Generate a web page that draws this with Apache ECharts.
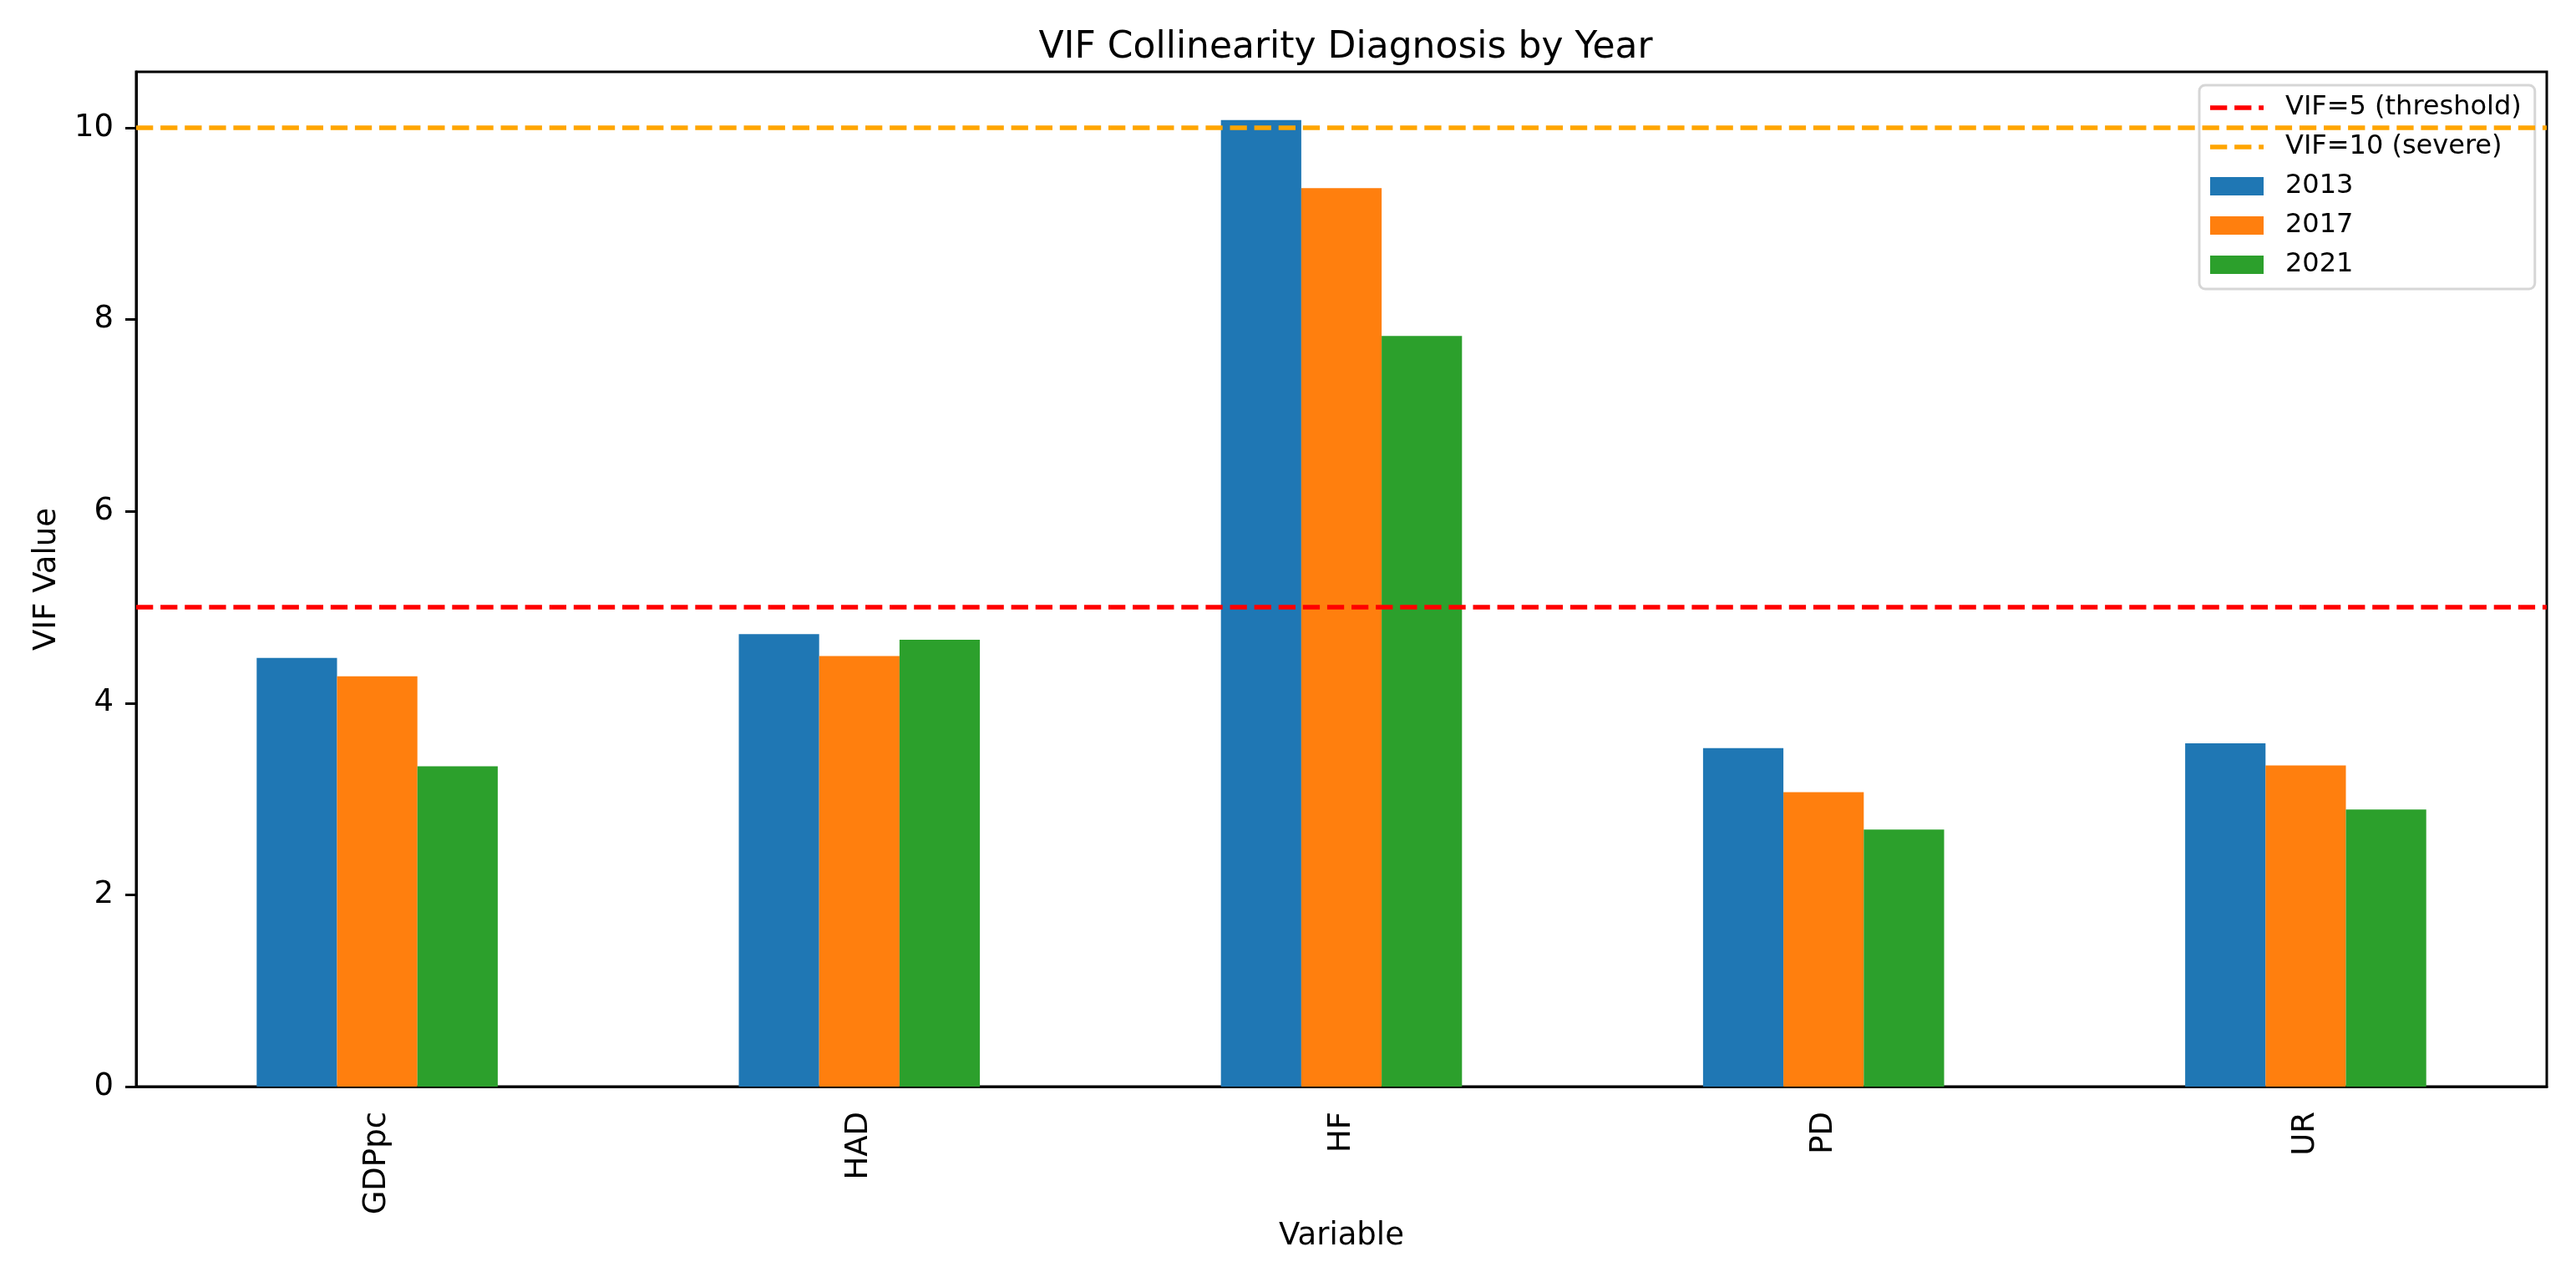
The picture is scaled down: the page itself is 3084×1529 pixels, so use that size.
<!DOCTYPE html>
<html>
<head>
<meta charset="utf-8">
<title>VIF Collinearity Diagnosis by Year</title>
<script src="https://cdn.jsdelivr.net/npm/echarts@6/dist/echarts.min.js"></script>
<style>
html, body { margin: 0; padding: 0; background: #fff; }
#main { width: 3084px; height: 1529px; }
</style>
</head>
<body>
<div id="main"></div>
<script>
// data
var categories = ['GDPpc', 'HAD', 'HF', 'PD', 'UR'];
var years = ['2013', '2017', '2021'];
var vif2013 = [4.47, 4.72, 10.08, 3.53, 3.58];
var vif2017 = [4.28, 4.49, 9.37, 3.07, 3.35];
var vif2021 = [3.34, 4.66, 7.83, 2.68, 2.89];
var yTicks = [0, 2, 4, 6, 8, 10];
var thresholdName = 'VIF=5 (threshold)';
var severeName = 'VIF=10 (severe)';
var thresholdValue = 5;
var severeValue = 10;

var FONT = 'DejaVu Sans';
var colors = ['#1f77b4', '#ff7f0e', '#2ca02c'];
var dash = [20.3, 8.8];
//图例里的虚线图标（64x22，四角放极小点保持比例）
var dashIcon = 'path://M0,0h0.01v0.01zM0,8.25h20.3v5.5H0zM29.1,8.25h20.3v5.5h-20.3zM58.2,8.25h5.8v5.5h-5.8zM64,22h-0.01v-0.01z';

//y轴上限：和 matplotlib 一样留 5% 边距
var allVals = vif2013.concat(vif2017, vif2021);
var yMax = Math.max.apply(null, allVals) * 1.05;

function barSeries(name, data, color){
    return {
        name: name,
        type: 'bar',
        data: data,
        barWidth: '16.667%',
        barGap: '0%',
        itemStyle: { color: color },
        z: 2
    };
}

function refLine(name, value, color){
    return {
        name: name,
        type: 'line',
        data: [],
        symbol: 'none',
        lineStyle: { color: color, width: 5.5, type: dash },
        itemStyle: { color: color },
        z: 3,
        markLine: {
            silent: true,
            symbol: ['none', 'none'],
            label: { show: false },
            lineStyle: { color: color, width: 5.5, type: dash },
            data: [{ yAxis: value }]
        }
    };
}

var legendData = [
    { name: thresholdName, icon: dashIcon },
    { name: severeName, icon: dashIcon }
];
for(var i = 0; i < years.length; i++){
    legendData.push({ name: years[i], icon: 'rect' });
}

var option = {
    animation: false,
    backgroundColor: '#fff',
    title: {
        text: 'VIF Collinearity Diagnosis by Year',
        left: 1606,
        top: 31,
        textAlign: 'center',
        textStyle: { fontFamily: FONT, fontSize: 44, fontWeight: 'normal', color: '#000' }
    },
    legend: {
        orient: 'vertical',
        left: 2633,
        top: 102,
        padding: [9, 16, 11, 13],
        itemGap: 11,
        itemWidth: 64,
        itemHeight: 22,
        backgroundColor: 'rgba(255,255,255,0.8)',
        borderColor: 'rgba(204,204,204,0.8)',
        borderWidth: 3,
        borderRadius: 7,
        data: legendData,
        textStyle: { fontFamily: FONT, fontSize: 32, color: '#000', lineHeight: 36, padding: [0, 0, 0, 21] }
    },
    grid: {
        left: 163,
        right: 35,
        top: 86,
        bottom: 228,
        show: true,
        borderColor: '#000',
        borderWidth: 3,
        backgroundColor: 'transparent'
    },
    xAxis: {
        type: 'category',
        data: categories,
        name: 'Variable',
        nameLocation: 'middle',
        nameGap: 152,
        nameTextStyle: { fontFamily: FONT, fontSize: 37, color: '#000' },
        axisLine: { lineStyle: { color: '#000', width: 3 } },
        axisTick: { alignWithLabel: true, length: 13, lineStyle: { color: '#000', width: 3 } },
        axisLabel: { rotate: 90, margin: 30, fontFamily: FONT, fontSize: 37, color: '#000' },
        splitLine: { show: false }
    },
    yAxis: {
        type: 'value',
        min: 0,
        max: yMax,
        interval: 2,
        name: 'VIF Value',
        nameLocation: 'middle',
        nameGap: 88,
        nameTextStyle: { fontFamily: FONT, fontSize: 37, color: '#000' },
        axisLine: { show: true, lineStyle: { color: '#000', width: 3 } },
        axisTick: { show: true, length: 13, customValues: yTicks, lineStyle: { color: '#000', width: 3 } },
        axisLabel: { margin: 27, customValues: yTicks, fontFamily: FONT, fontSize: 37, color: '#000' },
        splitLine: { show: false }
    },
    series: [
        barSeries(years[0], vif2013, colors[0]),
        barSeries(years[1], vif2017, colors[1]),
        barSeries(years[2], vif2021, colors[2]),
        refLine(thresholdName, thresholdValue, '#ff0000'),
        refLine(severeName, severeValue, '#ffa500')
    ]
};

var chart = echarts.init(document.getElementById('main'));
chart.setOption(option);
</script>
</body>
</html>
